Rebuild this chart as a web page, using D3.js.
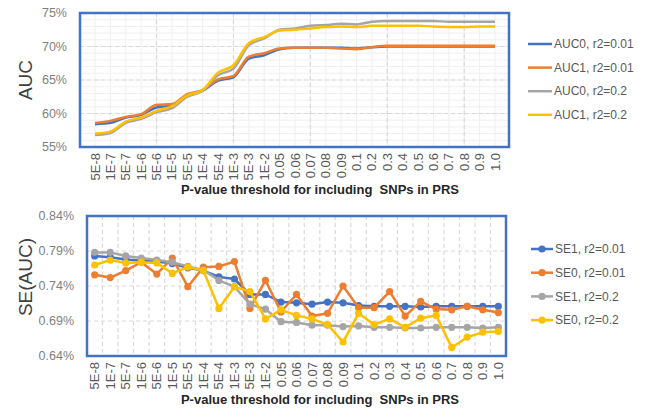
<!DOCTYPE html>
<html>
<head>
<meta charset="utf-8">
<script src="https://cdn.jsdelivr.net/npm/d3@7/dist/d3.min.js"></script>
<style>
  body { margin: 0; background: #fff; }
  svg { font-family: "Liberation Sans", Arial, sans-serif; }
</style>
</head>
<body>
<div id="chart"></div>
<script>
// p-value thresholds (x categories, shared by both panels)
const thresholds = ["5E-8", "1E-7", "5E-7", "1E-6", "5E-6", "1E-5", "5E-5", "1E-4", "5E-4", "1E-3",
    "5E-3", "1E-2", "0.05", "0.06", "0.07", "0.08", "0.09", "0.1", "0.2", "0.3",
    "0.4", "0.5", "0.6", "0.7", "0.8", "0.9", "1.0"];

// AUC (%)
const auc0_r001 = [58.4, 58.6, 59.4, 59.8, 60.9, 61.2, 62.7, 63.4, 64.9, 65.4, 68.2, 68.7, 69.6, 69.8,
    69.8, 69.8, 69.8, 69.7, 69.9, 70.0, 70.0, 70.0, 70.0, 70.0, 70.0, 70.0, 70.0];
const auc1_r001 = [58.6, 58.9, 59.5, 59.9, 61.3, 61.4, 62.9, 63.5, 65.1, 65.6, 68.5, 69.0, 69.7, 69.8,
    69.8, 69.8, 69.7, 69.6, 69.9, 70.1, 70.1, 70.1, 70.1, 70.1, 70.1, 70.1, 70.1];
const auc0_r02 = [56.8, 57.1, 58.6, 59.2, 60.2, 60.8, 62.5, 63.4, 65.7, 66.7, 70.2, 71.2, 72.5, 72.7,
    73.1, 73.2, 73.4, 73.3, 73.7, 73.8, 73.8, 73.8, 73.8, 73.7, 73.7, 73.7, 73.7];
const auc1_r02 = [57.0, 57.3, 58.8, 59.4, 60.4, 61.1, 62.7, 63.5, 66.1, 67.2, 70.5, 71.4, 72.4, 72.5,
    72.7, 72.9, 73.0, 72.9, 73.1, 73.1, 73.1, 73.1, 73.0, 72.9, 72.9, 73.0, 73.0];

// SE(AUC) (%)
const se1_r001 = [0.783, 0.781, 0.778, 0.776, 0.775, 0.772, 0.766, 0.762, 0.753, 0.750, 0.728, 0.728,
    0.717, 0.716, 0.714, 0.717, 0.716, 0.712, 0.711, 0.711, 0.711, 0.710, 0.711, 0.711, 0.711, 0.711, 0.711];
const se0_r001 = [0.756, 0.752, 0.762, 0.774, 0.757, 0.780, 0.739, 0.767, 0.768, 0.775, 0.708, 0.748,
    0.703, 0.728, 0.697, 0.701, 0.740, 0.709, 0.709, 0.732, 0.697, 0.718, 0.707, 0.706, 0.711, 0.706, 0.702];
const se1_r02 = [0.788, 0.788, 0.783, 0.780, 0.777, 0.774, 0.768, 0.763, 0.748, 0.739, 0.714, 0.707,
    0.689, 0.688, 0.684, 0.684, 0.682, 0.683, 0.681, 0.681, 0.680, 0.680, 0.681, 0.681, 0.681, 0.680, 0.681];
const se0_r02 = [0.770, 0.777, 0.773, 0.774, 0.773, 0.758, 0.767, 0.762, 0.708, 0.739, 0.732, 0.693,
    0.706, 0.698, 0.693, 0.685, 0.660, 0.701, 0.685, 0.693, 0.681, 0.694, 0.698, 0.652, 0.667, 0.674, 0.675];

const aucTicks = [55, 60, 65, 70, 75];
const seTicks = [0.64, 0.69, 0.74, 0.79, 0.84];

const aucSeries = [
    { name: "AUC0, r2=0.01", values: auc0_r001, color: "#4472C4" },
    { name: "AUC1, r2=0.01", values: auc1_r001, color: "#ED7D31" },
    { name: "AUC0, r2=0.2", values: auc0_r02, color: "#A5A5A5" },
    { name: "AUC1, r2=0.2", values: auc1_r02, color: "#FFC000" }
];
const seSeries = [
    { name: "SE1, r2=0.01", values: se1_r001, color: "#4472C4" },
    { name: "SE0, r2=0.01", values: se0_r001, color: "#ED7D31" },
    { name: "SE1, r2=0.2", values: se1_r02, color: "#A5A5A5" },
    { name: "SE0, r2=0.2", values: se0_r02, color: "#FFC000" }
];

const width = 646, height = 412;
const svg = d3.select("#chart").append("svg")
    .attr("width", width)
    .attr("height", height);

const xTitle = "P-value threshold for including  SNPs in PRS";

// ---------- TOP PANEL: AUC ----------
{
    const box = { left: 80, right: 509, top: 13, bottom: 147 };
    const x = d3.scalePoint().domain(thresholds).range([95, 495]);
    const y = d3.scaleLinear().domain([55, 75]).range([box.bottom, box.top]);
    const g = svg.append("g");

    // minor grid
    g.append("g").selectAll("line.hmin")
        .data(d3.range(56, 75))
        .join("line")
        .attr("x1", box.left).attr("x2", box.right)
        .attr("y1", d => y(d)).attr("y2", d => y(d))
        .attr("stroke", "#efefef").attr("stroke-width", 1);
    g.append("g").selectAll("line.vmin")
        .data(thresholds)
        .join("line")
        .attr("x1", d => x(d)).attr("x2", d => x(d))
        .attr("y1", box.top).attr("y2", box.bottom)
        .attr("stroke", "#efefef").attr("stroke-width", 1);

    // major grid (dashed)
    g.append("g").selectAll("line")
        .data(aucTicks.slice(1, -1))
        .join("line")
        .attr("x1", box.left).attr("x2", box.right)
        .attr("y1", d => y(d)).attr("y2", d => y(d))
        .attr("stroke", "#d9d9d9").attr("stroke-width", 1.2)
        .attr("stroke-dasharray", "4,3");
    g.append("g").selectAll("line")
        .data(thresholds.filter((d, i) => i % 5 === 4))
        .join("line")
        .attr("x1", d => x(d)).attr("x2", d => x(d))
        .attr("y1", box.top).attr("y2", box.bottom)
        .attr("stroke", "#d9d9d9").attr("stroke-width", 1.2)
        .attr("stroke-dasharray", "4,3");

    // lines
    const line = d3.line()
        .x((d, i) => x(thresholds[i]))
        .y(d => y(d))
        .curve(d3.curveMonotoneX);
    g.append("g").selectAll("path")
        .data(aucSeries)
        .join("path")
        .attr("fill", "none")
        .attr("stroke", d => d.color)
        .attr("stroke-width", 2.5)
        .attr("d", d => line(d.values));

    // border
    g.append("rect")
        .attr("x", box.left).attr("y", box.top)
        .attr("width", box.right - box.left).attr("height", box.bottom - box.top)
        .attr("fill", "none").attr("stroke", "#4472C4").attr("stroke-width", 2.5);

    // y tick labels
    g.append("g").selectAll("text")
        .data(aucTicks)
        .join("text")
        .attr("x", 67).attr("y", d => y(d))
        .attr("dy", "0.35em")
        .attr("text-anchor", "end")
        .attr("font-size", 12.5)
        .attr("fill", "#808080")
        .text(d => d + "%");

    // x tick labels
    g.append("g").selectAll("text")
        .data(thresholds)
        .join("text")
        .attr("transform", d => `translate(${x(d)},153) rotate(-90)`)
        .attr("dy", "0.35em")
        .attr("text-anchor", "end")
        .attr("font-size", 13)
        .attr("fill", "#595959")
        .text(d => d);

    g.append("text")
        .attr("transform", "translate(25,80) rotate(-90)")
        .attr("dy", "0.35em")
        .attr("text-anchor", "middle")
        .attr("font-size", 19)
        .attr("fill", "#404040")
        .text("AUC");

    g.append("text")
        .attr("x", 320).attr("y", 194)
        .attr("text-anchor", "middle")
        .attr("font-size", 13)
        .attr("font-weight", "bold")
        .attr("fill", "#262626")
        .style("white-space", "pre")
        .text(xTitle);

    // legend
    const leg = g.append("g").selectAll("g")
        .data(aucSeries)
        .join("g")
        .attr("transform", (d, i) => `translate(0,${44 + i * 23.6})`);
    leg.append("line")
        .attr("x1", 528).attr("x2", 552)
        .attr("stroke", d => d.color).attr("stroke-width", 2.5);
    leg.append("text")
        .attr("x", 554).attr("dy", "0.35em")
        .attr("font-size", 12)
        .attr("fill", "#595959")
        .text(d => d.name);
}

// ---------- BOTTOM PANEL: SE(AUC) ----------
{
    const box = { left: 87, right: 506, top: 216, bottom: 356 };
    const x = d3.scalePoint().domain(thresholds).range([94.7, 498.3]);
    const step = x.step();
    const y = d3.scaleLinear().domain([0.64, 0.84]).range([box.bottom, box.top]);
    const g = svg.append("g");

    // grid (dashed)
    g.append("g").selectAll("line")
        .data(seTicks.slice(1, -1))
        .join("line")
        .attr("x1", box.left).attr("x2", box.right)
        .attr("y1", d => y(d)).attr("y2", d => y(d))
        .attr("stroke", "#d9d9d9").attr("stroke-width", 1.2)
        .attr("stroke-dasharray", "4,3");
    g.append("g").selectAll("line")
        .data(thresholds.slice(1))
        .join("line")
        .attr("x1", d => x(d) - step / 2).attr("x2", d => x(d) - step / 2)
        .attr("y1", box.top).attr("y2", box.bottom)
        .attr("stroke", "#d9d9d9").attr("stroke-width", 1.2)
        .attr("stroke-dasharray", "4,3");

    const line = d3.line()
        .x((d, i) => x(thresholds[i]))
        .y(d => y(d));
    const sg = g.append("g").selectAll("g")
        .data(seSeries)
        .join("g");
    sg.append("path")
        .attr("fill", "none")
        .attr("stroke", d => d.color)
        .attr("stroke-width", 2.5)
        .attr("d", d => line(d.values));
    sg.selectAll("circle")
        .data(d => d.values.map((v, i) => ({ v, i, color: d.color })))
        .join("circle")
        .attr("cx", d => x(thresholds[d.i]))
        .attr("cy", d => y(d.v))
        .attr("r", 3.6)
        .attr("fill", d => d.color);

    g.append("rect")
        .attr("x", box.left).attr("y", box.top)
        .attr("width", box.right - box.left).attr("height", box.bottom - box.top)
        .attr("fill", "none").attr("stroke", "#4472C4").attr("stroke-width", 2.5);

    g.append("g").selectAll("text")
        .data(seTicks)
        .join("text")
        .attr("x", 74).attr("y", d => y(d))
        .attr("dy", "0.35em")
        .attr("text-anchor", "end")
        .attr("font-size", 12.5)
        .attr("fill", "#808080")
        .text(d => d.toFixed(2) + "%");

    g.append("g").selectAll("text")
        .data(thresholds)
        .join("text")
        .attr("transform", d => `translate(${x(d)},362) rotate(-90)`)
        .attr("dy", "0.35em")
        .attr("text-anchor", "end")
        .attr("font-size", 13)
        .attr("fill", "#595959")
        .text(d => d);

    g.append("text")
        .attr("transform", "translate(25,277) rotate(-90)")
        .attr("dy", "0.35em")
        .attr("text-anchor", "middle")
        .attr("font-size", 19)
        .attr("fill", "#404040")
        .text("SE(AUC)");

    g.append("text")
        .attr("x", 320).attr("y", 404)
        .attr("text-anchor", "middle")
        .attr("font-size", 13)
        .attr("font-weight", "bold")
        .attr("fill", "#262626")
        .style("white-space", "pre")
        .text(xTitle);

    const leg = g.append("g").selectAll("g")
        .data(seSeries)
        .join("g")
        .attr("transform", (d, i) => `translate(0,${249 + i * 23.7})`);
    leg.append("line")
        .attr("x1", 531).attr("x2", 553)
        .attr("stroke", d => d.color).attr("stroke-width", 2.5);
    leg.append("circle")
        .attr("cx", 542).attr("r", 3.6)
        .attr("fill", d => d.color);
    leg.append("text")
        .attr("x", 555).attr("dy", "0.35em")
        .attr("font-size", 12)
        .attr("fill", "#595959")
        .text(d => d.name);
}
</script>
</body>
</html>
